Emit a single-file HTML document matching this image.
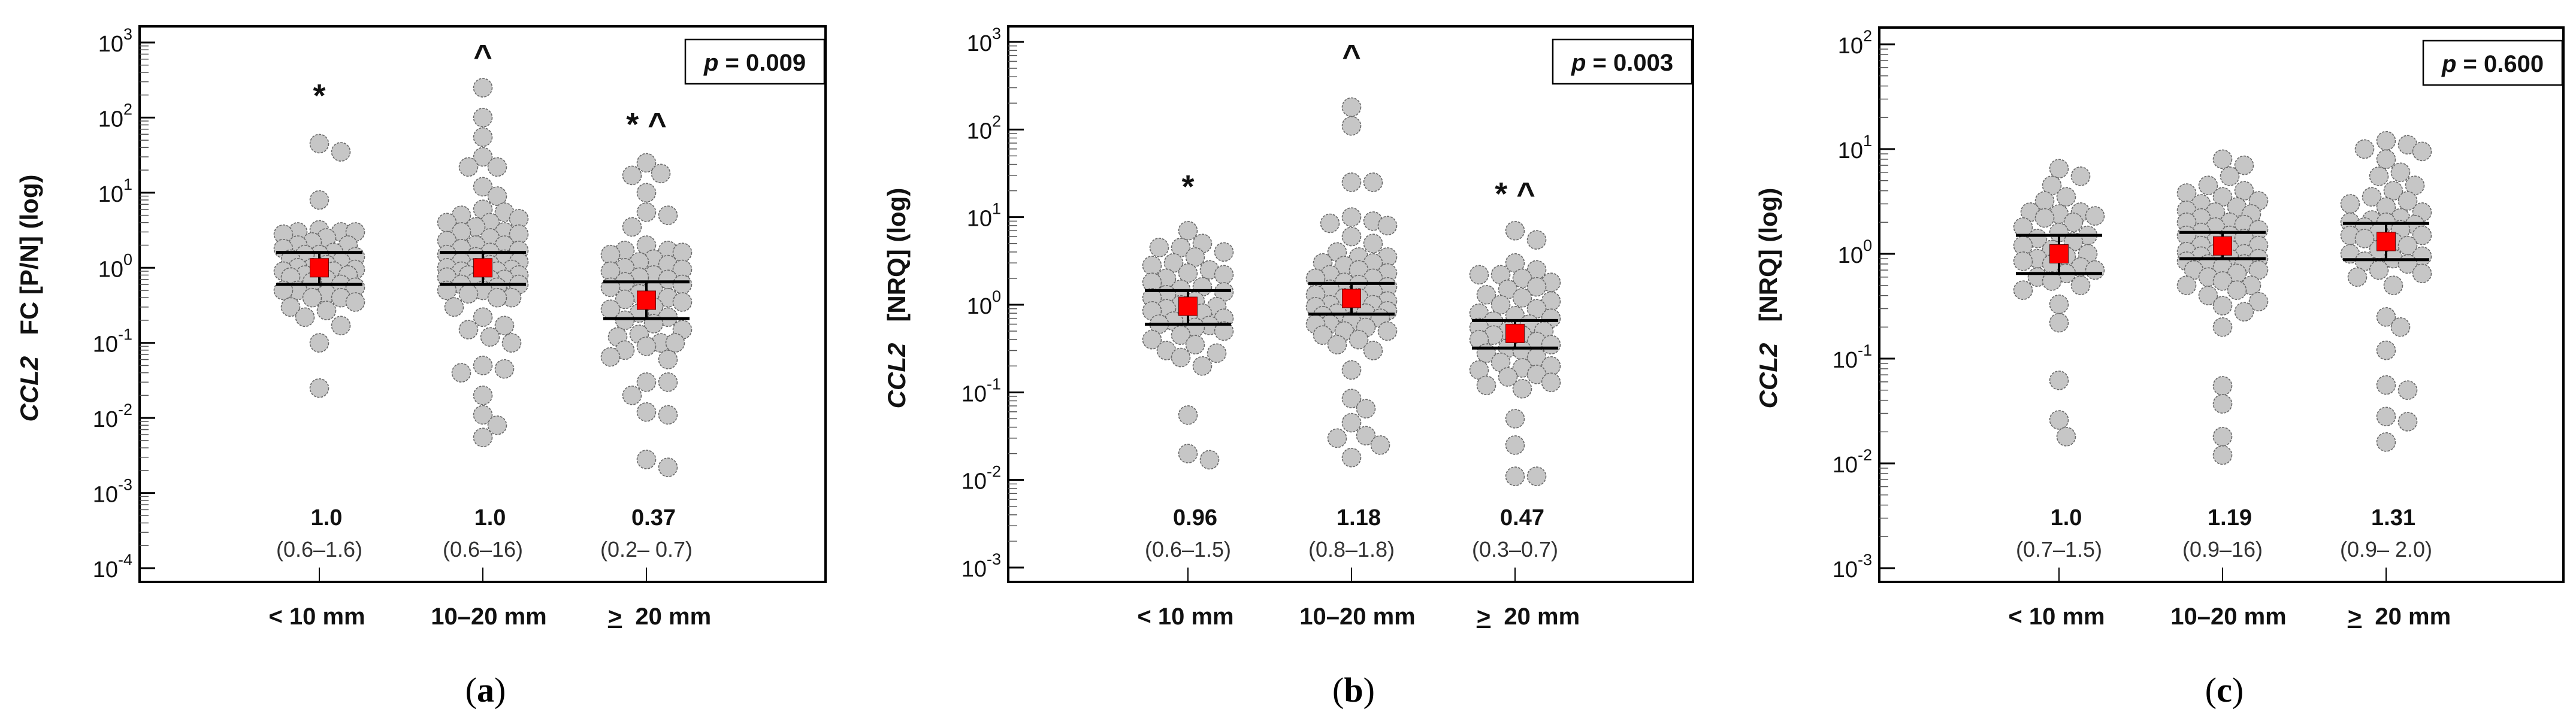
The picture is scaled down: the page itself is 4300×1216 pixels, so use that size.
<!DOCTYPE html>
<html><head><meta charset="utf-8">
<style>
html,body{margin:0;padding:0;background:#fff;}
svg{display:block;font-family:"Liberation Sans",Arial,sans-serif;}
</style></head>
<body>
<svg id="fig" width="4300" height="1216" viewBox="0 0 4300 1216" xmlns="http://www.w3.org/2000/svg"></svg>
<script>
// ---------- DATA ----------
const categories = ["< 10 mm", "10\u201320 mm", "\u2265 20 mm"];

const aSmall = [45,35,8,3.2,3,3,3,2.8,2.5,2.2,2,2,1.8,1.6,1.5,1.5,1.4,1.3,1.2,1.1,1,1,0.95,0.9,0.9,0.85,0.8,0.8,0.75,0.7,0.65,0.6,0.55,0.5,0.5,0.45,0.4,0.4,0.35,0.3,0.27,0.22,0.17,0.1,0.025];
const aMid = [250,100,55,30,22,22,12,9,6,5.5,5,4.5,4,4,3.5,3,3,2.8,2.5,2.3,2,2,1.8,1.7,1.6,1.5,1.4,1.3,1.2,1.2,1.1,1,1,0.95,0.9,0.9,0.85,0.8,0.8,0.75,0.7,0.7,0.65,0.6,0.6,0.55,0.5,0.5,0.45,0.4,0.4,0.3,0.22,0.17,0.15,0.12,0.1,0.05,0.045,0.04,0.02,0.011,0.008,0.0055];
const aLarge = [25,18,17,10,5.5,5,3.5,2,1.7,1.7,1.6,1.5,1.3,1.2,1.1,1,0.95,0.9,0.8,0.75,0.7,0.65,0.6,0.55,0.5,0.45,0.4,0.38,0.35,0.3,0.28,0.25,0.22,0.2,0.18,0.15,0.13,0.12,0.1,0.1,0.09,0.08,0.065,0.06,0.03,0.03,0.02,0.012,0.011,0.0028,0.0022];
const aMedian = [1.0,1.0,0.37];
const aQ1 = [0.6,0.6,0.21];
const aQ3 = [1.6,1.6,0.65];
const aMedianLabels = ["1.0","1.0","0.37"];
const aIqrLabels = ["(0.6\u20131.6)","(0.6\u201316)","(0.2\u2013 0.7)"];

const bSmall = [7,5,4.5,4.5,4,3.5,3,2.8,2.5,2.3,2.2,2,1.8,1.6,1.5,1.4,1.3,1.2,1.1,1,0.95,0.9,0.85,0.8,0.75,0.7,0.65,0.6,0.58,0.55,0.5,0.45,0.4,0.35,0.3,0.28,0.25,0.2,0.055,0.02,0.017];
const bMid = [180,110,25,25,10,9,8.5,8,6,5,4,3.5,3.5,3,3,2.8,2.5,2.3,2.2,2,2,1.8,1.7,1.6,1.5,1.4,1.3,1.2,1.2,1.1,1,1,0.95,0.9,0.85,0.8,0.8,0.75,0.7,0.65,0.6,0.6,0.55,0.5,0.5,0.45,0.4,0.35,0.3,0.18,0.085,0.065,0.045,0.032,0.03,0.025,0.018];
const bLarge = [7,5.5,3,2.5,2.2,2.2,2,1.8,1.6,1.5,1.3,1.2,1.1,1,0.9,0.8,0.75,0.7,0.65,0.6,0.55,0.5,0.5,0.45,0.45,0.4,0.38,0.35,0.32,0.3,0.28,0.25,0.22,0.2,0.19,0.18,0.16,0.15,0.13,0.12,0.11,0.05,0.025,0.011,0.011];
const bMedian = [0.96,1.18,0.47];
const bQ1 = [0.6,0.78,0.32];
const bQ3 = [1.45,1.75,0.66];
const bMedianLabels = ["0.96","1.18","0.47"];
const bIqrLabels = ["(0.6\u20131.5)","(0.8\u20131.8)","(0.3\u20130.7)"];

const cSmall = [6.5,5.5,4.5,3.5,3.2,2.5,2.5,2.4,2.3,2.2,2,1.8,1.6,1.5,1.4,1.3,1.2,1.1,1,0.95,0.9,0.85,0.8,0.75,0.7,0.65,0.6,0.55,0.5,0.45,0.33,0.22,0.062,0.026,0.018];
const cMid = [8,7,5.5,4.5,4,3.8,3.5,3.2,3,2.8,2.6,2.5,2.4,2.2,2,2,1.9,1.8,1.7,1.6,1.5,1.5,1.4,1.3,1.2,1.2,1.1,1.05,1,1,0.95,0.9,0.9,0.85,0.8,0.8,0.75,0.7,0.7,0.65,0.6,0.55,0.5,0.5,0.45,0.4,0.35,0.32,0.28,0.2,0.055,0.037,0.018,0.012];
const cLarge = [12,11,10,9.5,8,6,5.5,4.5,4,3.5,3.2,3,2.8,2.5,2.2,2.1,2,2,1.9,1.8,1.7,1.6,1.5,1.5,1.4,1.3,1.2,1.1,1,0.95,0.9,0.85,0.8,0.7,0.65,0.6,0.5,0.25,0.2,0.12,0.056,0.05,0.028,0.025,0.016];
const cMedian = [1.0,1.19,1.31];
const cQ1 = [0.65,0.9,0.88];
const cQ3 = [1.5,1.6,1.95];
const cMedianLabels = ["1.0","1.19","1.31"];
const cIqrLabels = ["(0.7\u20131.5)","(0.9\u201316)","(0.9\u2013 2.0)"];

const pLabels = ["0.009","0.003","0.600"];
const captions = ["a","b","c"];

// ---------- DRAW ----------
const NS = "http://www.w3.org/2000/svg";
const svg = document.getElementById("fig");
function mk(tag, attrs, parent){
  const e = document.createElementNS(NS, tag);
  for (const k in attrs) e.setAttribute(k, attrs[k]);
  (parent||svg).appendChild(e);
  return e;
}

const panels = [
  {id:"a", left:233, right:1378, top:44, bottom:972, maxExp:3, minExp:-4, yTop:71, yBot:949,
   groups:[aSmall,aMid,aLarge], med:aMedian, q1:aQ1, q3:aQ3, ml:aMedianLabels, il:aIqrLabels,
   ylab2:"FC [P/N] (log)", titleX:63, marks:[["*",0,148],["^",1,82],["* ^",2,196]]},
  {id:"b", left:1683, right:2826, top:44, bottom:972, maxExp:3, minExp:-3, yTop:70, yBot:948,
   groups:[bSmall,bMid,bLarge], med:bMedian, q1:bQ1, q3:bQ3, ml:bMedianLabels, il:bIqrLabels,
   ylab2:"[NRQ] (log)", titleX:1511, marks:[["*",0,300],["^",1,82],["* ^",2,312]]},
  {id:"c", left:3137, right:4279, top:46, bottom:972, maxExp:2, minExp:-3, yTop:74, yBot:949,
   groups:[cSmall,cMid,cLarge], med:cMedian, q1:cQ1, q3:cQ3, ml:cMedianLabels, il:cIqrLabels,
   ylab2:"[NRQ] (log)", titleX:2966, marks:[]}
];
const catOffsets = [300,573,846];

panels.forEach((P, pi) => {
  const g = mk("g", {});
  
  
  const dec = (P.yBot - P.yTop) / (P.maxExp - P.minExp);
  const yOf = v => P.yTop + (P.maxExp - Math.log10(v)) * dec;
  const xOf = i => P.left + catOffsets[i];

  const fr = mk("rect", {x:P.left, y:P.top, width:P.right-P.left, height:P.bottom-P.top, fill:"none", stroke:"#000", "stroke-width":4}, g);
  
  

  for (let e = P.maxExp; e >= P.minExp; e--) {
    const y = yOf(Math.pow(10, e));
    mk("line", {x1:P.left, x2:P.left+26, y1:y, y2:y, stroke:"#000", "stroke-width":3}, g);
    const t = mk("text", {x:P.left-12, y:y+15, "text-anchor":"end", "font-size":38, fill:"#111"}, g);
    
    
    t.textContent = "10";
    const s = mk("tspan", {dy:-20, "font-size":27}, t);
    s.textContent = String(e);
    if (e > P.minExp) {
      for (let m = 2; m <= 9; m++) {
        const ym = yOf(Math.pow(10, e-1) * m);
        mk("line", {x1:P.left, x2:P.left+15, y1:ym, y2:ym, stroke:"#555", "stroke-width":1.5}, g);
      }
    }
  }

  const tt = mk("text", {transform:`translate(${P.titleX},498) rotate(-90)`, "text-anchor":"middle", "font-size":42, "font-weight":"bold", fill:"#111"}, g);
  
  
  const it = mk("tspan", {"font-style":"italic"}, tt); it.textContent = "CCL2";
  const rt = mk("tspan", {}, tt); rt.textContent = "\u00a0\u00a0\u00a0" + P.ylab2;

  categories.forEach((c, i) => {
    const x = xOf(i);
    mk("line", {x1:x, x2:x, y1:P.bottom-24, y2:P.bottom, stroke:"#000", "stroke-width":2}, g);
    const lt = mk("text", {x:x+(i==1?10:(i==2?22:-4)), y:1043, "text-anchor":"middle", "font-size":40, "font-weight":"bold", fill:"#111"}, g);
    
    
    if (i == 2) {
      const u = mk("tspan", {"text-decoration":"underline"}, lt); u.textContent = ">";
      const r = mk("tspan", {}, lt); r.textContent = "\u00a0\u00a020 mm";
    } else lt.textContent = c;
  });

  const R = 15.5, step = 24, maxK = 2.5;
  P.groups.forEach((vals, gi) => {
    const cx = xOf(gi);
    const sorted = vals.slice().sort((a,b)=>b-a);
    const placed = [];
    sorted.forEach(v => {
      const y = yOf(v);
      let best = null, bestD = -1;
      const cands = [0];
      for (let k = 0.5; k <= maxK; k += 0.5) { cands.push(k*step, -k*step); }
      for (const o of cands) {
        let md = 1e9;
        for (const p of placed) { const d = Math.hypot(p[0]-o, p[1]-y); if (d < md) md = d; }
        if (md >= 2*R*0.92) { best = o; bestD = md; break; }
        if (md > bestD) { bestD = md; best = o; }
      }
      placed.push([best, y]);
      const c = mk("circle", {cx:cx+best, cy:y, r:R, fill:"#c6c6c6", stroke:"#6a6a6a", "stroke-width":1.6, "stroke-dasharray":"4 2"}, g);
      
      
    });

    const yq1 = yOf(P.q1[gi]), yq3 = yOf(P.q3[gi]), ym = yOf(P.med[gi]);
    mk("line", {x1:cx, x2:cx, y1:yq3, y2:yq1, stroke:"#000", "stroke-width":4}, g);
    const l1 = mk("line", {x1:cx-72, x2:cx+72, y1:yq1, y2:yq1, stroke:"#000", "stroke-width":5}, g);
    
    
    const l3 = mk("line", {x1:cx-72, x2:cx+72, y1:yq3, y2:yq3, stroke:"#000", "stroke-width":5}, g);
    
    
    const sq = mk("rect", {x:cx-15.5, y:ym-15.5, width:31, height:31, fill:"#ff0000", stroke:"#600", "stroke-width":1}, g);
    
    

    const mt = mk("text", {x:cx+12, y:877, "text-anchor":"middle", "font-size":38, "font-weight":"bold", fill:"#111"}, g);
    
    
    mt.textContent = P.ml[gi];
    const qt = mk("text", {x:cx, y:930, "text-anchor":"middle", "font-size":36, fill:"#333"}, g);
    
    
    qt.textContent = P.il[gi];
  });

  P.marks.forEach(m => {
    const st = mk("text", {x:xOf(m[1]), y:m[2]+30, "text-anchor":"middle", "font-size":54, "font-weight":"bold", fill:"#111"}, g);
    
    
    st.textContent = m[0];
  });

  const bx = P.right - 234, by = P.top + 22;
  const pb = mk("rect", {x:bx, y:by, width:232, height:74, fill:"#fff", stroke:"#000", "stroke-width":2.5}, g);
  
  
  const pt = mk("text", {x:bx+116, y:by+52, "text-anchor":"middle", "font-size":40, "font-weight":"bold", fill:"#111"}, g);
  
  
  const pi2 = mk("tspan", {"font-style":"italic"}, pt); pi2.textContent = "p";
  const pr = mk("tspan", {}, pt); pr.textContent = " = " + pLabels[pi];

  const cap = mk("text", {x:(P.left+P.right)/2+5, y:1172, "text-anchor":"middle", "font-size":58, fill:"#000", "font-family":"'Liberation Serif',serif"}, g);
  
  
  const c1 = mk("tspan", {}, cap); c1.textContent = "(";
  const c2 = mk("tspan", {"font-weight":"bold"}, cap); c2.textContent = captions[pi];
  const c3 = mk("tspan", {}, cap); c3.textContent = ")";
});
</script>
</body></html>
